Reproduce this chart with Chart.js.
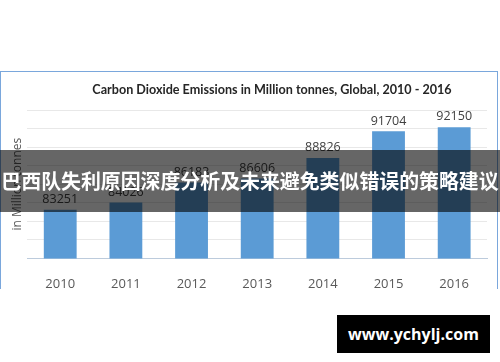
<!DOCTYPE html>
<html>
<head>
<meta charset="utf-8">
<script src="https://cdn.jsdelivr.net/npm/chart.js@4/dist/chart.umd.min.js"></script>
<style>
    html, body { margin: 0; padding: 0; background: #fff; }
    #wrap { position: relative; width: 500px; height: 362px; overflow: hidden; }
    #chart { position: absolute; left: 0; top: 0; }
    #frame {
        position: absolute; left: 0; top: 71px; width: 496px; height: 217px;
        border: 1px solid #7aa7dc; border-bottom: none; pointer-events: none;
    }
    #title {
        position: absolute; left: 0; top: 82px; width: 544px; text-align: center;
        font: bold 12.6px Lato, "Open Sans", sans-serif; color: #262626;
    }
    #banner {
        position: absolute; left: 0; top: 150px; width: 500px; height: 62px;
        background: rgba(0, 0, 0, 0.6); color: #fff; text-align: center;
        font: bold 19.9px "Noto Sans CJK SC", sans-serif; line-height: 62px; white-space: nowrap;
    }
    #mark {
        position: absolute; left: 337px; top: 315px; width: 153px; height: 38px;
        background: #000; color: #fff; text-align: center;
        font: bold 16px "Open Sans", sans-serif; line-height: 38px;
    }
</style>
</head>
<body>
<div id="wrap">
    <canvas id="chart" width="500" height="362"></canvas>
    <div id="frame"></div>
    <div id="title">Carbon Dioxide Emissions in Million tonnes, Global, 2010 - 2016</div>
    <div id="banner">巴西队失利原因深度分析及未来避免类似错误的策略建议</div>
    <div id="mark">www.ychylj.com</div>
</div>
<script>
// 데이터
const years = ['2010', '2011', '2012', '2013', '2014', '2015', '2016'];
const emissions = [83251, 84026, 86183, 86606, 88826, 91704, 92150];
const axisTitle = 'in Million tonnes';

// 막대 위 값 표시
const valueLabels = {
    id: 'valueLabels',
    afterDatasetsDraw(chart) {
        const ctx = chart.ctx;
        const meta = chart.getDatasetMeta(0);
        ctx.save();
        ctx.font = '12.5px "Open Sans", sans-serif';
        ctx.fillStyle = '#404040';
        ctx.textAlign = 'center';
        ctx.textBaseline = 'bottom';
        meta.data.forEach((bar, i) => {
            ctx.fillText(String(emissions[i]), bar.x, bar.y - 4);
        });
        ctx.restore();
    }
};

new Chart(document.getElementById('chart'), {
    type: 'bar',
    data: {
        labels: years,
        datasets: [{
            data: emissions,
            backgroundColor: '#5b9bd5',
            barPercentage: 0.5,
            categoryPercentage: 1.0
        }]
    },
    options: {
        responsive: false,
        animation: false,
        layout: { padding: { left: 8, right: 13, top: 110, bottom: 60 } },
        plugins: {
            legend: { display: false },
            tooltip: { enabled: false }
        },
        scales: {
            x: {
                grid: { display: false },
                border: { color: '#bccbdc' },
                ticks: { color: '#595959', font: { family: 'Open Sans', size: 13 }, padding: 10 }
            },
            y: {
                min: 78000,
                max: 94000,
                ticks: { display: false, stepSize: 2000 },
                grid: { color: '#e8e8e8', drawTicks: false },
                border: { display: false },
                title: {
                    display: true,
                    text: axisTitle,
                    color: '#595959',
                    font: { family: 'Open Sans', size: 12 },
                    padding: { top: 2, bottom: 3 }
                }
            }
        }
    },
    plugins: [valueLabels]
});
</script>
</body>
</html>
